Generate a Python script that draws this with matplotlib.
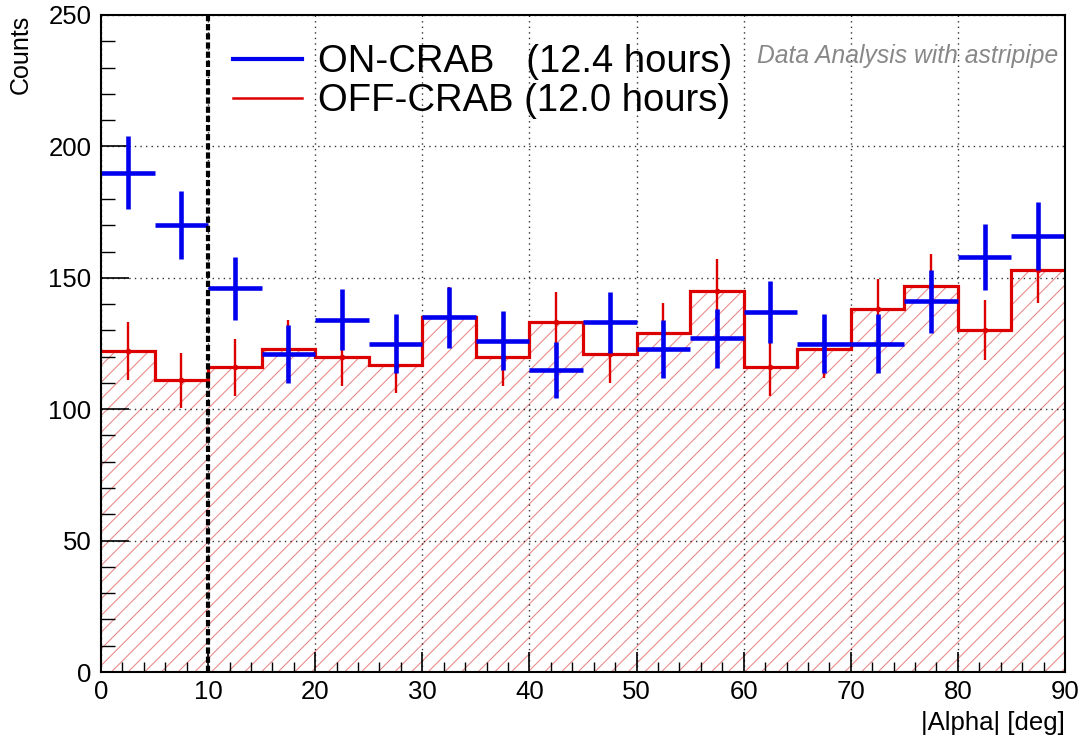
import numpy as np
import matplotlib
matplotlib.use("Agg")
import matplotlib.pyplot as plt
from matplotlib.ticker import MultipleLocator
from matplotlib.lines import Line2D

# ---- data ----
bin_edges = [0, 5, 10, 15, 20, 25, 30, 35, 40, 45, 50, 55, 60, 65, 70, 75, 80, 85, 90]
on_counts = [190, 170, 146, 121, 134, 125, 135, 126, 115, 133, 123, 127, 137, 125, 125, 141, 158, 166]
on_errors = [13.8, 13.0, 12.1, 11.0, 11.6, 11.2, 11.6, 11.2, 10.7, 11.5, 11.1, 11.3, 11.7, 11.2, 11.2, 11.9, 12.6, 12.9]
off_counts = [122, 111, 116, 123, 120, 117, 135, 120, 133, 121, 129, 145, 116, 123, 138, 147, 130, 153]
off_errors = [11.0, 10.5, 10.8, 11.1, 11.0, 10.8, 11.6, 11.0, 11.5, 11.0, 11.4, 12.0, 10.8, 11.1, 11.7, 12.1, 11.4, 12.4]
on_label = "ON-CRAB   (12.4 hours)"
off_label = "OFF-CRAB (12.0 hours)"
cut_value = 10
x_label = "|Alpha| [deg]"
y_label = "Counts"
note = "Data Analysis with astripipe"

plt.rcParams['font.family'] = ['Liberation Sans', 'DejaVu Sans']
plt.rcParams['hatch.linewidth'] = 0.8

fig = plt.figure(figsize=(10.81, 7.40), dpi=100)
ax = fig.add_axes([101/1081, 1-672/740, (1065-101)/1081, (672-15)/740])

edges = np.array(bin_edges, dtype=float)
centers = 0.5 * (edges[:-1] + edges[1:])
widths = np.diff(edges)

# hatched fill of OFF histogram
ax.bar(edges[:-1], off_counts, width=widths, align='edge', facecolor='none',
       edgecolor=(0.92, 0.55, 0.55), linewidth=0, hatch='//', zorder=1)
# OFF outline
ax.stairs(off_counts, edges, baseline=None, color='#dd0000', linewidth=2.3, zorder=3)
# OFF error bars
ax.errorbar(centers, off_counts, yerr=off_errors, fmt='o', ms=3, color='#dd0000',
            elinewidth=1.7, capsize=0, zorder=4)
# ON crosses
ax.errorbar(centers, on_counts, xerr=widths/2, yerr=on_errors, fmt='none',
            ecolor='#0000ee', elinewidth=3.3, capsize=0, zorder=5)

# cut line
ax.axvline(cut_value, color='black', linewidth=3, linestyle=(0, (1.5, 0.7)), zorder=6)

ax.set_xlim(0, 90)
ax.set_ylim(0, 250)
ax.xaxis.set_major_locator(MultipleLocator(10))
ax.xaxis.set_minor_locator(MultipleLocator(2))
ax.yaxis.set_major_locator(MultipleLocator(50))
ax.yaxis.set_minor_locator(MultipleLocator(10))
ax.tick_params(axis='x', which='major', direction='in', length=14.5, width=1.2, labelsize=18.5, pad=6)
ax.tick_params(axis='x', which='minor', direction='in', length=7, width=1.0)
ax.tick_params(axis='y', which='major', direction='in', length=20, width=1.2, labelsize=18.5, pad=7)
ax.tick_params(axis='y', which='minor', direction='in', length=10, width=1.0)
ax.grid(True, which='major', linestyle=(0, (1, 3)), color='black', linewidth=1.0, alpha=0.8)
ax.set_axisbelow(False)
for s in ax.spines.values():
    s.set_linewidth(1.5)
    s.set_zorder(7)

ax.set_xlabel(x_label, fontsize=18.5, loc='right')
ax.set_ylabel(y_label, fontsize=18, loc='top')
ax.yaxis.set_label_coords(-0.071, 1.0)
ax.xaxis.set_label_coords(1.0, -0.06)

# legend
handles = [Line2D([], [], color='#0000ee', lw=3.0), Line2D([], [], color='#dd0000', lw=1.8)]
leg = ax.legend(handles, [on_label, off_label], loc='upper left',
                bbox_to_anchor=((233-101)/964, (672-44)/657), fontsize=27.5, frameon=False,
                handlelength=1.8, handletextpad=0.42, labelspacing=0.08,
                borderaxespad=0.0, borderpad=0.0)

ax.text(0.993, (672-56)/657, note, transform=ax.transAxes, ha='right', va='center',
        fontsize=17.7, style='italic', color='#888888')

fig.savefig("out.png", dpi=100)
